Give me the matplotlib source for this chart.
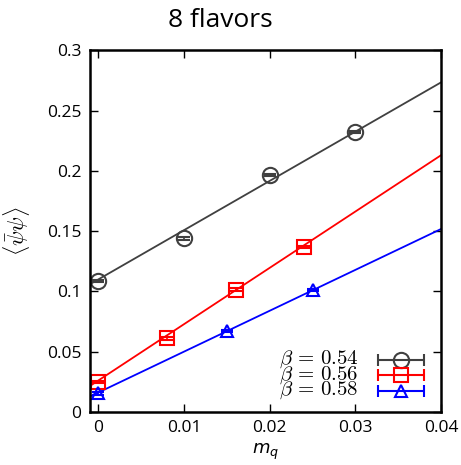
import matplotlib.pyplot as plt
import numpy as np

plt.rcParams['font.family'] = ['Open Sans', 'DejaVu Sans']
plt.rcParams['mathtext.fontset'] = 'cm'

#=== data ===
betas = ['0.54', '0.56', '0.58']
colors = ['#404040', '#ff0000', '#0000ff']
markers = ['o', 's', '^']
msizes = [11, 10, 9]

mq_054 = [0.0, 0.01, 0.02, 0.03]
pbp_054 = [0.1086, 0.1440, 0.1965, 0.2320]
err_054 = [0.0010, 0.0010, 0.0010, 0.0010]

mq_056 = [0.0, 0.008, 0.016, 0.024]
pbp_056 = [0.0250, 0.0610, 0.1015, 0.1370]
err_056 = [0.0010, 0.0010, 0.0010, 0.0010]

mq_058 = [0.0, 0.015, 0.025]
pbp_058 = [0.0155, 0.0670, 0.1010]
err_058 = [0.0010, 0.0010, 0.0010]

# linear fits (slope, intercept)
fit_slope = [4.085, 4.67, 3.39]
fit_icept = [0.1100, 0.0262, 0.0162]

xs = [mq_054, mq_056, mq_058]
ys = [pbp_054, pbp_056, pbp_058]
es = [err_054, err_056, err_058]

fig = plt.figure(figsize=(4.61, 4.65), dpi=100)
ax = fig.add_axes([0.195, 0.114, 0.762, 0.778])

xl = np.array([-0.001, 0.04])
for i in range(3):
    ax.plot(xl, fit_slope[i]*xl + fit_icept[i], color=colors[i], lw=1.3)
    ax.errorbar(xs[i], ys[i], yerr=es[i], fmt=markers[i], mfc='none', mec=colors[i],
                mew=1.5, ms=msizes[i], ecolor=colors[i], elinewidth=1.2, capsize=4)

ax.set_xlim(-0.001, 0.04)
ax.set_ylim(0, 0.3)
ax.set_xticks([0, 0.01, 0.02, 0.03, 0.04])
ax.set_xticklabels(['0', '0.01', '0.02', '0.03', '0.04'])
ax.set_yticks([0, 0.05, 0.1, 0.15, 0.2, 0.25, 0.3])
ax.set_yticklabels(['0', '0.05', '0.1', '0.15', '0.2', '0.25', '0.3'])
ax.tick_params(direction='in', top=True, right=True, length=6, width=1, labelsize=12.5, pad=6)
for s in ax.spines.values():
    s.set_linewidth(1.8)

ax.set_xlabel(r'$m_q$', fontsize=13, math_fontfamily='dejavusans', labelpad=4)
ax.set_ylabel(r'$\langle\bar{\psi}\psi\rangle$', fontsize=16)
ax.yaxis.set_label_coords(-0.165, 0.5)
fig.text(0.478, 0.955, '8 flavors', ha='center', va='center', fontsize=19)

# key, bottom right
for i in range(3):
    yk = 0.145 - i*0.043
    ax.text(0.765, yk, r'$\beta\, =\, %s$' % betas[i], transform=ax.transAxes,
            ha='right', va='center', fontsize=15)
    ax.errorbar([0.885], [yk], xerr=[0.065], transform=ax.transAxes, fmt=markers[i],
                mfc='none', mec=colors[i], mew=1.5, ms=msizes[i], ecolor=colors[i],
                elinewidth=1.5, capsize=4, clip_on=False)

fig.savefig('out.png', dpi=100)
